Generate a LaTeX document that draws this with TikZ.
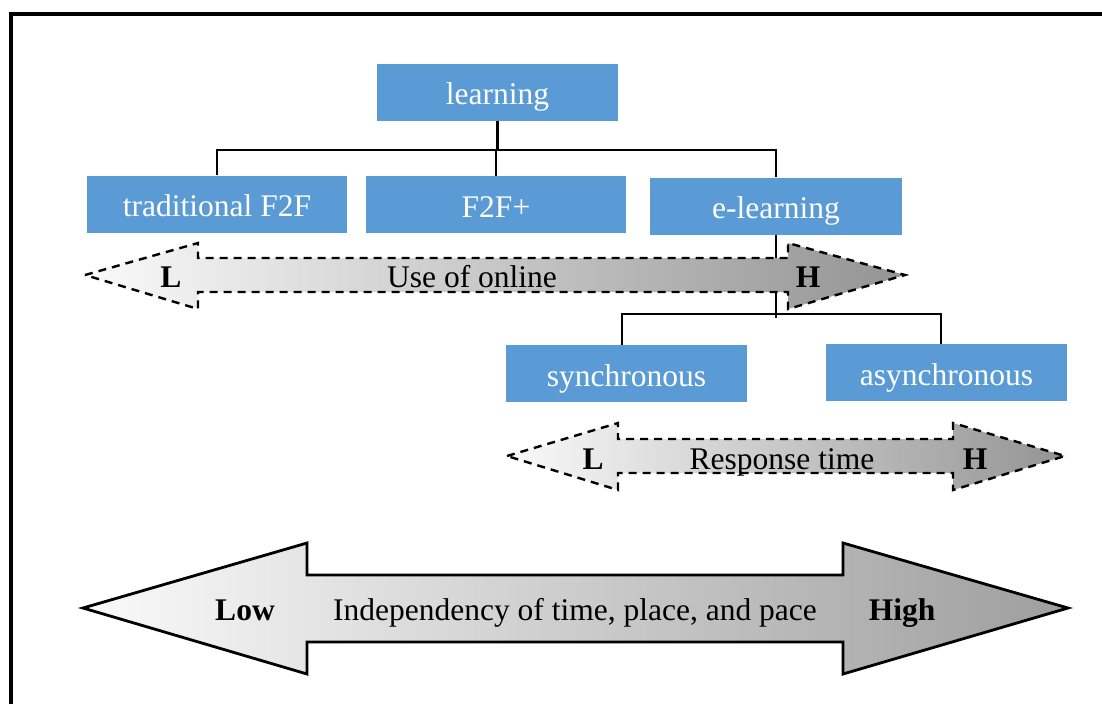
\documentclass[tikz,border=0pt]{standalone}
\usepackage{fontspec}
\setmainfont{Liberation Serif}
\begin{document}
\begin{tikzpicture}[x=1pt,y=-1pt,
  font=\fontsize{31.5}{36}\selectfont,
  catbox/.style={fill=boxblue,text=white,inner sep=0pt,minimum height=57pt,text height=25pt,text depth=0pt},
  link/.style={draw=black,line width=2.8pt},
  softarrow/.style={draw=black,line width=2.4pt,dash pattern=on 8pt off 6pt,left color=black!2,right color=black!42},
  bigarrow/.style={draw=black,line width=2.8pt,line join=miter,left color=black!2,right color=black!38},
  lbl/.style={inner sep=0pt,anchor=base},
  tag/.style={lbl,font=\fontsize{31.5}{36}\selectfont\bfseries}]
\definecolor{boxblue}{HTML}{5B9BD5}
\useasboundingbox (0,0) rectangle (1102,704);
\fill[white] (0,0) rectangle (1102,704);

% outer frame
\draw[line width=3.5pt] (11,704) -- (11,14) -- (1102,14);

% category boxes
\node[catbox,minimum width=241pt] (learn) at (497.5,92) {learning};
\node[catbox,minimum width=260pt] (trad) at (217,204) {traditional F2F};
\node[catbox,minimum width=260pt] (f2f) at (496,204.5) {F2F+};
\node[catbox,minimum width=252pt] (elearn) at (776,206) {e-learning};
\node[catbox,minimum width=241pt] (sync) at (626.5,373.5) {synchronous};
\node[catbox,minimum width=241pt] (async) at (946.5,372.5) {asynchronous};

% tree connectors
\coordinate (bar) at (0,150);
\draw[link] (learn.south) -- (learn.south |- bar);
\draw[link] (trad.north) -- (trad.north |- bar) -| (elearn.north);
\draw[link] (f2f.north) -- (f2f.north |- bar);
\coordinate (etail) at (776,318);
\draw[link] (elearn.south) -- (etail);
\coordinate (sbar) at (622,314);
\coordinate (abar) at (941,314);
\draw[link] (sync.north -| sbar) -- (sbar) -- (abar) -- (async.north -| abar);

% use of online
\path[softarrow] (85,275) -- (198,243) -- (198,258) -- (788,258) -- (788,243)
  -- (905,275) -- (788,309) -- (788,292) -- (198,292) -- (198,309) -- cycle;
\node[tag] (ol) at (171,287) {L};
\node[tag] (oh) at (808,287) {H};
\node[lbl] (online) at (472,287) {Use of online};

% response time
\path[softarrow] (507,456) -- (618,423) -- (618,439) -- (953,439) -- (953,423)
  -- (1065,456) -- (953,490) -- (953,473) -- (618,473) -- (618,490) -- cycle;
\node[tag] (rl) at (593,469) {L};
\node[tag] (rh) at (975,469) {H};
\node[lbl] (resp) at (782,469) {Response time};

% independency of time, place, and pace
\path[bigarrow] (83,608) -- (307,543) -- (307,575) -- (843,575) -- (843,543)
  -- (1068,608) -- (843,674) -- (843,642) -- (307,642) -- (307,674) -- cycle;
\node[tag] (low) at (245,620) {Low};
\node[tag] (high) at (902,620) {High};
\node[lbl] (indep) at (575,620) {Independency of time, place, and pace};
\end{tikzpicture}
\end{document}
